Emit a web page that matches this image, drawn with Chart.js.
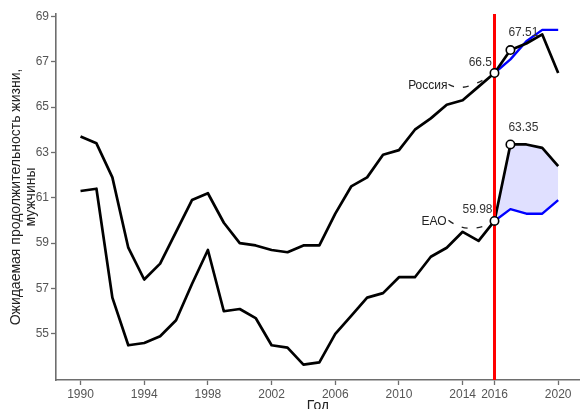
<!DOCTYPE html>
<html>
<head>
<meta charset="utf-8">
<script src="https://cdn.jsdelivr.net/npm/chart.js@4/dist/chart.umd.min.js"></script>
<style>
  html, body { margin: 0; padding: 0; background: #fff; }
  #chart { display: block; }
</style>
</head>
<body>
<canvas id="chart" width="580" height="409"></canvas>
<script>
const years = [1990, 1991, 1992, 1993, 1994, 1995, 1996, 1997, 1998, 1999, 2000, 2001, 2002, 2003,
  2004, 2005, 2006, 2007, 2008, 2009, 2010, 2011, 2012, 2013, 2014, 2015, 2016];
const russia = [63.7, 63.4, 61.9, 58.8, 57.4, 58.1, 59.5, 60.9, 61.2, 59.9, 59.0, 58.9, 58.7, 58.6,
  58.9, 58.9, 60.3, 61.5, 61.9, 62.9, 63.1, 64.0, 64.5, 65.1, 65.3, 65.9, 66.5];
const eao = [61.3, 61.4, 56.6, 54.5, 54.6, 54.9, 55.6, 57.2, 58.7, 56.0, 56.1, 55.7, 54.5, 54.4,
  53.65, 53.75, 55.0, 55.8, 56.6, 56.8, 57.5, 57.5, 58.4, 58.8, 59.5, 59.1, 59.98];

const forecastYears = [2016, 2017, 2018, 2019, 2020];
const russiaForecast = [66.5, 67.51, 67.8, 68.2, 66.5];
const russiaBaseline = [66.5, 67.1, 67.9, 68.4, 68.4];
const eaoForecast = [59.98, 63.35, 63.35, 63.2, 62.4];
const eaoBaseline = [59.98, 60.5, 60.3, 60.3, 60.9];

const cutYear = 2016;
const markedCount = 2; // first two forecast years get a marker + value label
const xTicks = [1990, 1994, 1998, 2002, 2006, 2010, 2014, 2016, 2020];
const yTicks = [55, 57, 59, 61, 63, 65, 67, 69];
const regionNames = ["Россия", "ЕАО"];
const yTitle = ["Ожидаемая продолжительность жизни,", "мужчины"];
const xTitle = "Год";

const font = "'Liberation Sans', Arial, sans-serif";
const axisGrey = "#6e6e6e";
const textGrey = "#555555";

const toXY = (xs, ys) => xs.map((x, i) => ({ x, y: ys[i] }));

const marked = [];
for (let i = 0; i < markedCount; i += 1) marked.push({ x: forecastYears[i], y: russiaForecast[i] });
for (let i = 0; i < markedCount; i += 1) marked.push({ x: forecastYears[i], y: eaoForecast[i] });

const yMin = 52.97;
const yMax = 69.1;

// value label offsets for each marker (px from the marker)
const valueLabelPos = [
  { dx: -2.5, dy: -10, align: "right" },
  { dx: -2, dy: -17.5, align: "left" },
  { dx: -2, dy: -11, align: "right" },
  { dx: -2, dy: -17, align: "left" }
];

// region name callouts, attached to marker 0 and 2
const callouts = [
  { point: 0, text: regionNames[0], tx: -47, ty: 12.3, start: [-46, 11.3], ctrl: [-32, 20], end: [-7, 4.3] },
  { point: 2, text: regionNames[1], tx: -48, ty: 0.3, start: [-46, -0.8], ctrl: [-29, 13.2], end: [-5, 3.2] }
];

const lineBase = {
  pointRadius: 0,
  tension: 0,
  fill: false,
  borderJoinStyle: "round",
  borderCapStyle: "butt"
};

// ggplot lets the panel run to the right edge; Chart.js keeps a few px back
const stretchRight = {
  id: "stretchRight",
  afterLayout(chart) {
    const s = chart.scales.x;
    const edge = chart.width;
    s.right = edge;
    s.width = edge - s.left;
    s.configure();
    s._labelItems = null;
    s._gridLineItems = null;
    chart.chartArea.right = edge;
    chart.chartArea.width = edge - chart.chartArea.left;
  }
};

const annotate = {
  id: "annotate",
  afterDatasetsDraw(chart) {
    const ctx = chart.ctx;
    const meta = chart.getDatasetMeta(0);
    ctx.save();
    ctx.fillStyle = "#333";
    ctx.font = `12px ${font}`;
    ctx.textBaseline = "middle";
    meta.data.forEach((el, i) => {
      const pos = valueLabelPos[i];
      ctx.textAlign = pos.align;
      ctx.fillText(String(marked[i].y), el.x + pos.dx, el.y + pos.dy);
    });

    callouts.forEach(c => {
      const el = meta.data[c.point];
      ctx.textAlign = "right";
      ctx.fillStyle = "#222";
      ctx.fillText(c.text, el.x + c.tx, el.y + c.ty);
      ctx.beginPath();
      ctx.setLineDash([6, 9]);
      ctx.lineWidth = 1.3;
      ctx.strokeStyle = "#222";
      ctx.moveTo(el.x + c.start[0], el.y + c.start[1]);
      ctx.quadraticCurveTo(el.x + c.ctrl[0], el.y + c.ctrl[1], el.x + c.end[0], el.y + c.end[1]);
      ctx.stroke();
      ctx.setLineDash([]);
    });
    ctx.restore();
  },
  afterDraw(chart) {
    const ctx = chart.ctx;
    const area = chart.chartArea;
    ctx.save();
    ctx.fillStyle = "#222";
    ctx.font = `14px ${font}`;
    ctx.textAlign = "center";
    ctx.textBaseline = "middle";
    ctx.fillText(xTitle, (area.left + area.right) / 2, 406);
    const cy = (area.top + area.bottom) / 2;
    yTitle.forEach((line, i) => {
      ctx.save();
      ctx.translate(16.5 + i * 14.3, cy);
      ctx.rotate(-Math.PI / 2);
      ctx.fillText(line, 0, 0);
      ctx.restore();
    });
    ctx.restore();
  }
};

new Chart(document.getElementById("chart"), {
  type: "line",
  data: {
    datasets: [
      {
        label: "markers",
        data: marked,
        showLine: false,
        pointRadius: 4.2,
        pointBorderWidth: 1.6,
        pointBackgroundColor: "#fff",
        pointBorderColor: "#000",
        order: 0
      },
      {
        ...lineBase,
        label: "cut",
        data: [{ x: cutYear, y: yMin }, { x: cutYear, y: yMax }],
        borderColor: "#ff0000",
        borderWidth: 3,
        order: 1
      },
      {
        ...lineBase,
        label: "Россия",
        data: toXY(years, russia),
        borderColor: "#000",
        borderWidth: 2.7,
        order: 2
      },
      {
        ...lineBase,
        label: "ЕАО",
        data: toXY(years, eao),
        borderColor: "#000",
        borderWidth: 2.7,
        order: 2
      },
      {
        ...lineBase,
        label: "Россия прогноз",
        data: toXY(forecastYears, russiaForecast),
        borderColor: "#000",
        borderWidth: 2.7,
        order: 2
      },
      {
        ...lineBase,
        label: "ЕАО прогноз",
        data: toXY(forecastYears, eaoForecast),
        borderColor: "#000",
        borderWidth: 2.7,
        order: 2
      },
      {
        ...lineBase,
        label: "Россия база",
        data: toXY(forecastYears, russiaBaseline),
        borderColor: "#0000ff",
        borderWidth: 2.4,
        order: 3
      },
      {
        ...lineBase,
        label: "ЕАО база",
        data: toXY(forecastYears, eaoBaseline),
        borderColor: "#0000ff",
        borderWidth: 2.4,
        fill: { target: 5 },
        backgroundColor: "rgba(0, 0, 255, 0.12)",
        order: 3
      }
    ]
  },
  options: {
    responsive: false,
    animation: false,
    devicePixelRatio: 1,
    layout: { padding: { top: 14, right: 0, left: 0, bottom: 0 } },
    plugins: {
      legend: { display: false },
      tooltip: { enabled: false }
    },
    scales: {
      x: {
        type: "linear",
        min: 1988.46,
        max: 2021.37,
        afterBuildTicks: scale => { scale.ticks = xTicks.map(value => ({ value })); },
        afterFit: scale => { scale.height = 29; },
        ticks: {
          autoSkip: false,
          maxRotation: 0,
          color: textGrey,
          padding: 2,
          font: { family: font, size: 12 },
          callback: value => String(value)
        },
        grid: { drawOnChartArea: false, tickLength: 5, tickColor: axisGrey, tickWidth: 1.3 },
        border: { color: axisGrey, width: 1.6 }
      },
      y: {
        min: yMin,
        max: yMax,
        afterBuildTicks: scale => { scale.ticks = yTicks.map(value => ({ value })); },
        afterFit: scale => { scale.width = 56; },
        ticks: {
          color: textGrey,
          padding: 2,
          font: { family: font, size: 12 },
          callback: value => String(value)
        },
        grid: { drawOnChartArea: false, tickLength: 5, tickColor: axisGrey, tickWidth: 1.3 },
        border: { color: axisGrey, width: 1.6 }
      }
    }
  },
  plugins: [stretchRight, annotate]
});
</script>
</body>
</html>
